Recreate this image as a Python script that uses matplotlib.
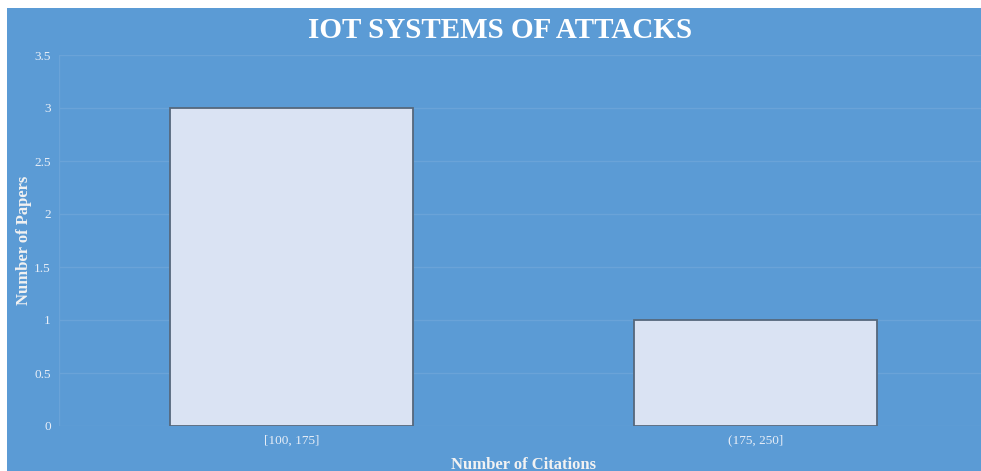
import matplotlib.pyplot as plt
from matplotlib.patches import Rectangle

categories = ["[100, 175]", "(175, 250]"]
papers = [3, 1]
yticks = [0, 0.5, 1, 1.5, 2, 2.5, 3, 3.5]

bg = "#5b9bd5"
plt.rcParams["font.family"] = ["Liberation Serif", "DejaVu Serif"]

fig = plt.figure(figsize=(9.81, 4.71), dpi=100)
fig.patch.set_facecolor("white")
# blue panel, leaving a thin white margin top and left
fig.patches.append(Rectangle((7 / 981, 0), 1, 1 - 8 / 471, transform=fig.transFigure,
                             facecolor=bg, edgecolor="none", zorder=-5))

ax = fig.add_axes([59 / 981, 45 / 471, (988 - 59) / 981, (426 - 55) / 471])
ax.set_facecolor("none")
x = list(range(len(categories)))
ax.bar(x, papers, width=0.523, color="#dae3f3", edgecolor="#56687c", linewidth=1.3, zorder=3)

ax.set_xlim(-0.5, 1.5)
ax.set_ylim(0, 3.5)
ax.set_yticks(yticks)
ax.set_yticklabels([f"{t:g}" for t in yticks])
ax.set_xticks(x)
ax.set_xticklabels(categories)
grid_c = "#6aa3d8"
ax.grid(axis="y", color=grid_c, linewidth=1, zorder=1)
ax.axvline(-0.5, color=grid_c, linewidth=1, zorder=1)
for s in ax.spines.values():
    s.set_visible(False)
ax.tick_params(length=0, colors="#e8eef7", labelsize=9.5, pad=6)
ax.tick_params(axis="y", pad=6)

ax.set_ylabel("Number of Papers", fontsize=12, fontweight="bold", color="#f2f2f2")
ax.yaxis.set_label_coords(-0.029, 0.5)
ax.set_xlabel("Number of Citations", fontsize=12, fontweight="bold", color="#f2f2f2")
ax.xaxis.set_label_coords(0.5, -0.083)
fig.text(500 / 981, 1 - 31 / 471, "IOT SYSTEMS OF ATTACKS", ha="center", va="center",
         fontsize=21, fontweight="bold", color="white")

fig.savefig("out.png", dpi=100, facecolor=fig.get_facecolor())
